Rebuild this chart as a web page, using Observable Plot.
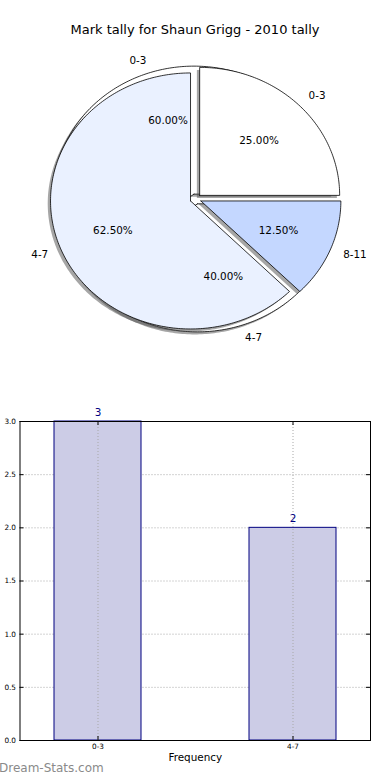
<!DOCTYPE html>
<html><head><meta charset="utf-8">
<script src="https://cdn.jsdelivr.net/npm/d3@7"></script>
<script src="https://cdn.jsdelivr.net/npm/@observablehq/plot@0.6"></script>
<style>
body{margin:0;background:#fff;font-family:"DejaVu Sans",sans-serif;}
#wrap{position:relative;width:390px;height:780px;overflow:hidden;background:#fff;}
#title{position:absolute;left:0;top:22px;width:390px;text-align:center;font-size:13px;line-height:16px;color:#000;}
#pie{position:absolute;left:0;top:0;}
#bar{position:absolute;left:0;top:400px;}
#mark{position:absolute;left:-1px;top:761px;font-size:12px;line-height:14px;color:#8a8a8a;}
</style></head><body>
<div id="wrap"><div id="pie"></div><div id="bar"></div><div id="title"></div><div id="mark">Dream-Stats.com</div></div>
<script>
const chartTitle = "Mark tally for Shaun Grigg - 2010 tally";
// back pie (drawn first)
const pieALabels = ["0-3", "4-7"];
const pieAValues = [3, 2];
const pieAColors = ["#ffffff", "#ffffff"];
// front pie (drawn on top)
const pieBLabels = ["0-3", "4-7", "8-11"];
const pieBValues = [2, 5, 1];
const pieBColors = ["#ffffff", "#eaf1ff", "#c4d7ff"];
// bar chart
const barCategories = ["0-3", "4-7"];
const barCounts = [3, 2];
const yTicks = [0, 0.5, 1, 1.5, 2, 2.5, 3];
const xAxisLabel = "Frequency";

document.getElementById("title").textContent = chartTitle;

const EXPLODE = 0.04, LABEL_R = 1.1, PCT_R = 0.6, SHX = -0.02, SHY = -0.02;

function wedges(labels, values, colors, pid) {
  const total = d3.sum(values);
  let a = 0;
  return labels.map((lab, i) => {
    const frac = values[i] / total;
    const a0 = a, a1 = a + frac * 2 * Math.PI; a = a1;
    const mid = (a0 + a1) / 2;
    const ox = EXPLODE * Math.cos(mid), oy = EXPLODE * Math.sin(mid);
    const n = Math.max(4, Math.ceil((a1 - a0) / (Math.PI / 180)));
    const pts = [{x: ox, y: oy}];
    for (let k = 0; k <= n; k++) {
      const t = a0 + (a1 - a0) * k / n;
      pts.push({x: ox + Math.cos(t), y: oy + Math.sin(t)});
    }
    pts.push({x: ox, y: oy});
    const lx = ox + LABEL_R * Math.cos(mid), ly = oy + LABEL_R * Math.sin(mid);
    return {id: pid + i, label: lab, pct: (frac * 100).toFixed(2) + "%", color: colors[i],
      pts, lx, ly, px: ox + PCT_R * Math.cos(mid), py: oy + PCT_R * Math.sin(mid)};
  });
}

const A = wedges(pieALabels, pieAValues, pieAColors, "a");
const B = wedges(pieBLabels, pieBValues, pieBColors, "b");

function shadowMarks(ws) {
  return ws.map(w => Plot.line(w.pts, {x: d => d.x + SHX, y: d => d.y + SHY, fill: "#4d4d4d", fillOpacity: 0.5, stroke: "none"}));
}
function wedgeMarks(ws) {
  return ws.map(w => Plot.line(w.pts, {x: "x", y: "y", fill: w.color, stroke: "#000", strokeWidth: 0.8, strokeLinejoin: "miter"}));
}
const allW = [...A, ...B];
const textFont = {fontSize: 10.4, fill: "#000", fontFamily: "DejaVu Sans"};

const pie = Plot.plot({
  width: 390, height: 400, margin: 0,
  x: {domain: [-1, 1], range: [195.2 - 140, 195.2 + 140], axis: null},
  y: {domain: [-1, 1], range: [198.5 + 128, 198.5 - 128], axis: null},
  style: {background: "transparent", fontFamily: "DejaVu Sans"},
  marks: [
    ...shadowMarks(A), ...wedgeMarks(A),
    ...shadowMarks(B), ...wedgeMarks(B),
    Plot.text(allW.filter(w => w.lx > 0), {x: "lx", y: "ly", text: "label", textAnchor: "start", ...textFont}),
    Plot.text(allW.filter(w => w.lx <= 0), {x: "lx", y: "ly", text: "label", textAnchor: "end", ...textFont}),
    Plot.text(allW, {x: "px", y: "py", text: "pct", textAnchor: "middle", ...textFont})
  ]
});
document.getElementById("pie").append(pie);

const bars = barCategories.map((c, i) => ({cat: c, count: barCounts[i]}));
const gridStyle = {stroke: "#a8a8a8", strokeOpacity: 1, strokeWidth: 1, strokeDasharray: "1,2"};
const bar = Plot.plot({
  width: 390, height: 380, marginTop: 21, marginBottom: 40, marginLeft: 19.5, marginRight: 20,
  x: {type: "band", domain: barCategories, paddingInner: 0.554, paddingOuter: 0.174, align: 0.5, axis: null},
  y: {domain: [0, 3], axis: null},
  style: {background: "transparent", fontFamily: "DejaVu Sans"},
  marks: [
    Plot.gridY(yTicks, gridStyle),
    Plot.barY(bars, {x: "cat", y: "count", fill: "#ccccE6", stroke: "#000080", strokeWidth: 1}),
    Plot.gridX(barCategories, gridStyle),
    Plot.tickY(yTicks, {y: d => d, stroke: "#000", insetRight: 346.5}),
    Plot.tickY(yTicks, {y: d => d, stroke: "#000", insetLeft: 346.5}),
    Plot.tickX(barCategories, {x: d => d, stroke: "#000", insetTop: 315}),
    Plot.tickX(barCategories, {x: d => d, stroke: "#000", insetBottom: 315}),
    Plot.frame({stroke: "#000", strokeWidth: 1}),
    Plot.axisY(yTicks, {tickSize: 0, tickPadding: 4, tickFormat: d3.format(".1f"), fontSize: 7.3, fill: "#000", label: null}),
    Plot.axisX(barCategories, {tickSize: 0, tickPadding: 3, fontSize: 7.3, fill: "#000", label: null}),
    Plot.text(bars, {x: "cat", y: "count", text: d => String(d.count), dy: -9, fontSize: 10.4, fill: "#000080"}),
    Plot.text([xAxisLabel], {frameAnchor: "bottom", dy: 20, fontSize: 10.4, fill: "#000"})
  ]
});
document.getElementById("bar").append(bar);
</script>
</body></html>
